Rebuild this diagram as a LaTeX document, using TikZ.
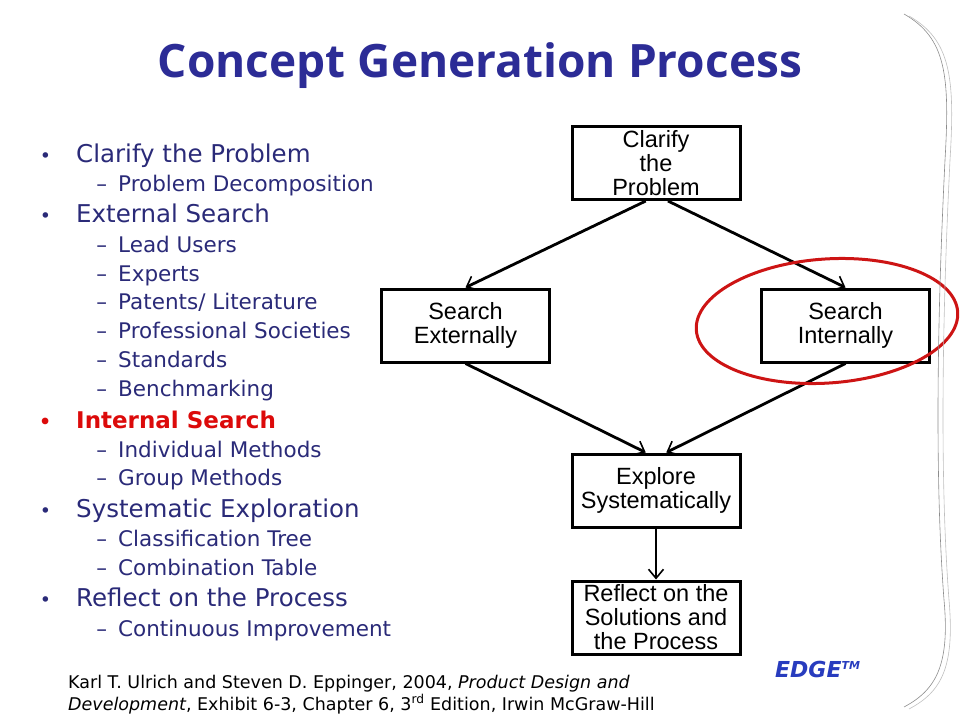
\documentclass[tikz,border=0pt]{standalone}
\usepackage{fontspec}
\setmainfont{DejaVu Sans}
\newfontfamily\titlefont{Open Sans}
\newfontfamily\boxfont{Liberation Sans}
\usetikzlibrary{arrows.meta,calc}

\definecolor{titleblue}{RGB}{44,44,150}
\definecolor{itemblue}{RGB}{42,42,120}
\definecolor{itemred}{RGB}{220,10,10}
\definecolor{ringred}{RGB}{205,20,20}
\definecolor{edgeblue}{RGB}{40,60,190}

\newcommand{\bul}{\llap{{\fontsize{19}{19}\selectfont\textbullet}\hspace{25pt}}}
\newcommand{\dsh}{\llap{--\hspace{11pt}}}

\begin{document}
\begin{tikzpicture}[x=1pt,y=-1pt,
   every node/.style={inner sep=0pt},
   stage/.style={draw,line width=3pt,minimum width=168pt,minimum height=73pt,
                 align=center,inner sep=2pt,font=\boxfont\fontsize{23.5}{24}\selectfont},
   head/.style={anchor=base west,text=itemblue,text height=18pt,text depth=5pt,
                font=\fontsize{24.5}{26}\selectfont},
   sub/.style={anchor=base west,text=itemblue,text height=16pt,text depth=4pt,
               font=\fontsize{21.5}{22}\selectfont},
   flow/.style={line width=2.8pt,-{Straight Barb[length=9pt,width=15pt,line width=1.6pt]}},
   ring/.style={draw=ringred,line width=3pt}
]
\useasboundingbox (0,0) rectangle (960,720);

% title
\node[text=titleblue,font=\titlefont\bfseries\fontsize{46}{52}\selectfont] (title) at (480,66)
     {Concept Generation Process};

% bullet list
\node[head] (clarify) at (76,162) {\bul Clarify the Problem};
\node[sub] (decomp) at (118,191) {\dsh Problem Decomposition};
\node[head] (external) at (76,222) {\bul External Search};
\node[sub] (lead) at (118,252) {\dsh Lead Users};
\node[sub] (experts) at (118,281) {\dsh Experts};
\node[sub] (patents) at (118,309) {\dsh Patents/ Literature};
\node[sub] (societies) at (118,338) {\dsh Professional Societies};
\node[sub] (standards) at (118,367) {\dsh Standards};
\node[sub] (bench) at (118,396) {\dsh Benchmarking};
\node[head,text=itemred,font=\bfseries\fontsize{23}{26}\selectfont] (internal) at (76,428)
     {\bul Internal Search};
\node[sub] (indiv) at (118,457) {\dsh Individual Methods};
\node[sub] (group) at (118,485) {\dsh Group Methods};
\node[head] (systematic) at (76,517) {\bul Systematic Exploration};
\node[sub] (tree) at (118,546) {\dsh Classification Tree};
\node[sub] (table) at (118,575) {\dsh Combination Table};
\node[head] (reflect) at (76,606) {\bul Reflect on the Process};
\node[sub] (improve) at (118,636) {\dsh Continuous Improvement};

% flow chart
\node[stage] (clar) at (656,163) {Clarify\\the\\Problem};
\node[stage] (ext) at (465.5,325.5) {Search\\Externally};
\node[stage] (int) at (845.5,325.5) {Search\\Internally};
\node[stage] (expl) at (656,490.5) {Explore\\Systematically};
\node[stage] (refl) at (656,617.5) {Reflect on the\\Solutions and\\the Process};

\draw[flow] ($(clar.south west)!0.44!(clar.south east)$) -- (ext.north);
\draw[flow] ($(clar.south west)!0.57!(clar.south east)$) -- (int.north);
\draw[flow] (ext.south) -- ($(expl.north west)!0.44!(expl.north east)$);
\draw[flow] (int.south) -- ($(expl.north west)!0.56!(expl.north east)$);
\draw[flow] (expl) -- (refl);

% highlight round the internal search
\draw[ring,rotate around={4:(827,321)}] (827,321) ellipse [x radius=131,y radius=62];

% page edge strokes
\draw[black!45,line width=0.6pt] (904,14) .. controls (946,38) and (950,75) .. (945,160)
     .. controls (938,300) and (934,470) .. (944,600) .. controls (950,665) and (936,690) .. (904,707);
\draw[black!25,line width=0.6pt] (909,16) .. controls (951,40) and (955,78) .. (950,160)
     .. controls (943,300) and (939,470) .. (949,600) .. controls (955,668) and (941,692) .. (909,709);

% reference line
\node[anchor=base west,font=\fontsize{17.5}{20}\selectfont] (cite1) at (68,688)
     {Karl T. Ulrich and Steven D. Eppinger, 2004, \textit{Product Design and}};
\node[anchor=base west,font=\fontsize{17.5}{20}\selectfont] (cite2) at (68,710)
     {\textit{Development}, Exhibit 6-3, Chapter 6, 3\textsuperscript{rd} Edition, Irwin McGraw-Hill};
\node[anchor=base west,text=edgeblue,font=\bfseries\itshape\fontsize{22}{24}\selectfont] (edge) at (775,677)
     {EDGE\textsuperscript{\fontsize{11}{12}\selectfont TM}};
\end{tikzpicture}
\end{document}
